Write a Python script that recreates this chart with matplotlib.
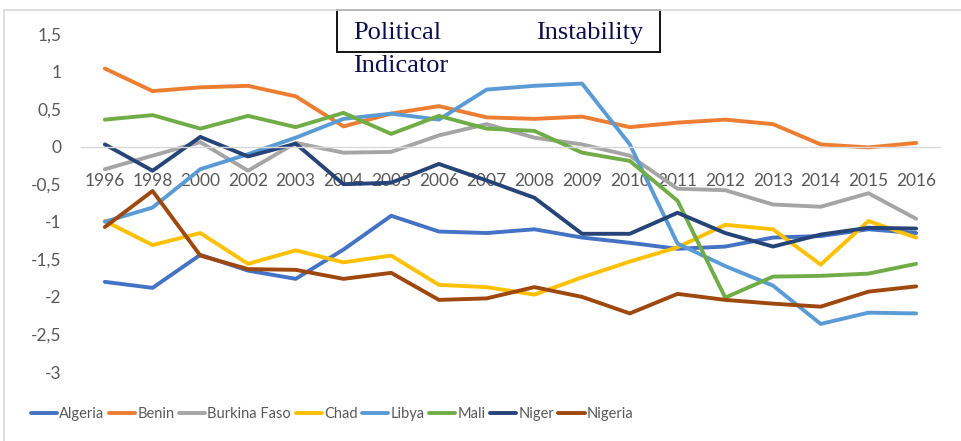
import matplotlib
matplotlib.use('Agg')
import matplotlib.pyplot as plt
from matplotlib.lines import Line2D
from matplotlib.patches import Rectangle

years = ['1996', '1998', '2000', '2002', '2003', '2004', '2005', '2006', '2007',
         '2008', '2009', '2010', '2011', '2012', '2013', '2014', '2015', '2016']

algeria = [-1.80, -1.88, -1.44, -1.65, -1.76, -1.37, -0.92, -1.13, -1.15,
           -1.10, -1.21, -1.28, -1.36, -1.33, -1.21, -1.19, -1.10, -1.15]
benin = [1.04, 0.74, 0.79, 0.81, 0.67, 0.27, 0.44, 0.54, 0.39,
         0.37, 0.40, 0.26, 0.32, 0.36, 0.30, 0.03, -0.01, 0.05]
burkina = [-0.30, -0.12, 0.06, -0.32, 0.05, -0.08, -0.07, 0.15, 0.30,
           0.12, 0.03, -0.12, -0.56, -0.58, -0.77, -0.80, -0.62, -0.96]
chad = [-0.99, -1.31, -1.15, -1.56, -1.38, -1.54, -1.45, -1.84, -1.87,
        -1.97, -1.74, -1.53, -1.34, -1.04, -1.10, -1.57, -0.99, -1.21]
libya = [-1.00, -0.81, -0.30, -0.10, 0.12, 0.37, 0.44, 0.36, 0.76,
         0.81, 0.84, 0.03, -1.29, -1.59, -1.85, -2.36, -2.21, -2.22]
mali = [0.36, 0.42, 0.24, 0.41, 0.26, 0.45, 0.17, 0.41, 0.24,
        0.21, -0.08, -0.19, -0.72, -2.01, -1.73, -1.72, -1.69, -1.56]
niger = [0.03, -0.32, 0.13, -0.13, 0.04, -0.50, -0.48, -0.23, -0.45,
         -0.68, -1.16, -1.16, -0.88, -1.15, -1.33, -1.17, -1.08, -1.09]
nigeria = [-1.07, -0.59, -1.45, -1.63, -1.64, -1.76, -1.68, -2.04, -2.02,
           -1.87, -2.00, -2.22, -1.96, -2.04, -2.09, -2.13, -1.93, -1.86]

series = [('Algeria', algeria, '#4472C4'),
          ('Benin', benin, '#ED7D31'),
          ('Burkina Faso', burkina, '#A5A5A5'),
          ('Chad', chad, '#FFC000'),
          ('Libya', libya, '#5B9BD5'),
          ('Mali', mali, '#70AD47'),
          ('Niger', niger, '#264478'),
          ('Nigeria', nigeria, '#9E480E')]

yticks = [1.5, 1, 0.5, 0, -0.5, -1, -1.5, -2, -2.5, -3]
ytick_labels = ['1,5', '1', '0,5', '0', '-0,5', '-1', '-1,5', '-2', '-2,5', '-3']

fig = plt.figure(figsize=(9.62, 4.41), dpi=100)
ax = fig.add_axes([81 / 962, 1 - 372 / 441, (940 - 81) / 962, (372 - 34) / 441])

x = list(range(len(years)))
for name, vals, col in series:
    ax.plot(x, vals, color=col, lw=2.8, label=name,
            solid_joinstyle='round', solid_capstyle='round')

ax.set_xlim(-0.5, len(years) - 0.5)
ax.set_ylim(-3, 1.5)
ax.set_xticks(x)
ax.set_xticklabels(years)
ax.set_yticks(yticks)
ax.set_yticklabels(ytick_labels)

for s in ['top', 'right', 'left']:
    ax.spines[s].set_visible(False)
ax.spines['bottom'].set_position(('data', 0))
ax.spines['bottom'].set_color('#D9D9D9')
ax.spines['bottom'].set_linewidth(1.0)
ax.tick_params(axis='both', length=0, labelcolor='#595959', labelsize=12.5)
ax.tick_params(axis='x', pad=19)
ax.tick_params(axis='y', pad=14)
for lab in ax.get_xticklabels() + ax.get_yticklabels():
    lab.set_fontfamily(['Lato', 'DejaVu Sans'])
ax.set_axisbelow(True)
ax.xaxis.set_zorder(0.5)
ax.yaxis.set_zorder(0.5)

leg = fig.legend(loc='center left', bbox_to_anchor=(31 / 962, 1 - 414 / 441),
                 ncol=8, frameon=False, handlelength=1.8, handletextpad=0.15,
                 columnspacing=0.3, borderpad=0, borderaxespad=0,
                 prop={'family': ['Lato', 'DejaVu Sans'], 'size': 10.5})
for t in leg.get_texts():
    t.set_color('#595959')

# title box, text wraps like a justified Word text box
fig.patches.append(Rectangle((337 / 962, 1 - 52 / 441), (660 - 337) / 962, 42 / 441,
                             transform=fig.transFigure, fill=False,
                             edgecolor='black', lw=1.3))
tcol = '#0D0D4D'
fig.text(353 / 962, 1 - 33 / 441, 'Political', family='Liberation Serif',
         fontsize=19, color=tcol, ha='left', va='center')
fig.text(643 / 962, 1 - 33 / 441, 'Instability', family='Liberation Serif',
         fontsize=19, color=tcol, ha='right', va='center')
fig.text(353 / 962, 1 - 66 / 441, 'Indicator', family='Liberation Serif',
         fontsize=19, color=tcol, ha='left', va='center')

# outer chart border
fig.lines.append(Line2D([4 / 962, 1], [1 - 10 / 441, 1 - 10 / 441],
                        transform=fig.transFigure, color='#D9D9D9', lw=1.2))
fig.lines.append(Line2D([4 / 962, 4 / 962], [0, 1 - 10 / 441],
                        transform=fig.transFigure, color='#D9D9D9', lw=1.2))

fig.savefig('out.png', dpi=100, facecolor='white')
